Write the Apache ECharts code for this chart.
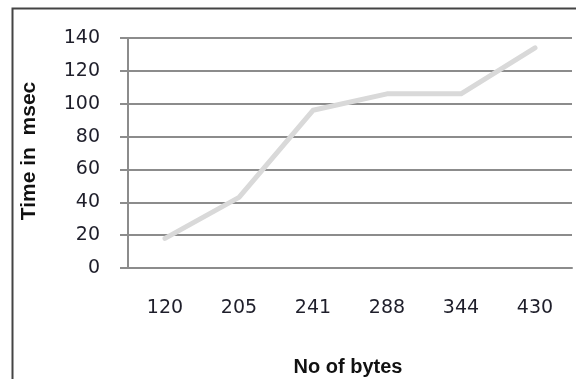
<!DOCTYPE html>
<html>
<head>
<meta charset="utf-8">
<script src="https://cdn.jsdelivr.net/npm/echarts@6/dist/echarts.min.js"></script>
<style>
  html, body { margin: 0; padding: 0; background: #fff; }
  #chart { width: 576px; height: 379px; }
</style>
</head>
<body>
<div id="chart"></div>
<script>
// Message size (bytes) against response time (msec)
const byteCounts = ['120', '205', '241', '288', '344', '430'];
const timeMsec = [18, 43, 96, 106, 106, 134];
const yTicks = { min: 0, max: 140, step: 20 };

const chart = echarts.init(document.getElementById('chart'));
const labelFont = { fontFamily: 'DejaVu Sans', fontSize: 19, color: '#1e1e2a' };
const gridGray = '#8c8c8c';

chart.setOption({
  animation: false,
  backgroundColor: '#fff',
  grid: { left: 128, top: 38, right: 4, bottom: 111 },
  graphic: [
    {
      type: 'rect',
      shape: { x: 12.5, y: 8.5, width: 620, height: 420 },
      style: { fill: 'none', stroke: '#444', lineWidth: 2 },
      silent: true
    },
    {
      type: 'text',
      x: 348, y: 367,
      style: {
        text: 'No of bytes',
        align: 'center', verticalAlign: 'middle',
        font: 'bold 20px "Liberation Sans"', fill: '#111'
      }
    },
    {
      type: 'text',
      x: 29, y: 151,
      rotation: Math.PI / 2,
      style: {
        text: 'Time in  msec',
        align: 'center', verticalAlign: 'middle',
        font: 'bold 21px "Liberation Sans"', fill: '#111'
      }
    }
  ],
  xAxis: {
    type: 'category',
    data: byteCounts,
    boundaryGap: true,
    axisLine: { show: true, lineStyle: { color: gridGray, width: 2 } },
    axisTick: { show: false },
    axisLabel: Object.assign({ margin: 31 }, labelFont),
    splitLine: { show: false }
  },
  yAxis: {
    type: 'value',
    min: yTicks.min,
    max: yTicks.max,
    interval: yTicks.step,
    axisLine: { show: true, lineStyle: { color: gridGray, width: 2 } },
    axisTick: { show: true, length: 8, lineStyle: { color: gridGray, width: 2 } },
    axisLabel: Object.assign({ margin: 28 }, labelFont),
    splitLine: { show: true, lineStyle: { color: gridGray, width: 2 } }
  },
  series: [{
    type: 'line',
    data: timeMsec,
    symbol: 'none',
    lineStyle: { color: '#d9d9d9', width: 5, cap: 'round', join: 'round' }
  }]
});
</script>
</body>
</html>
